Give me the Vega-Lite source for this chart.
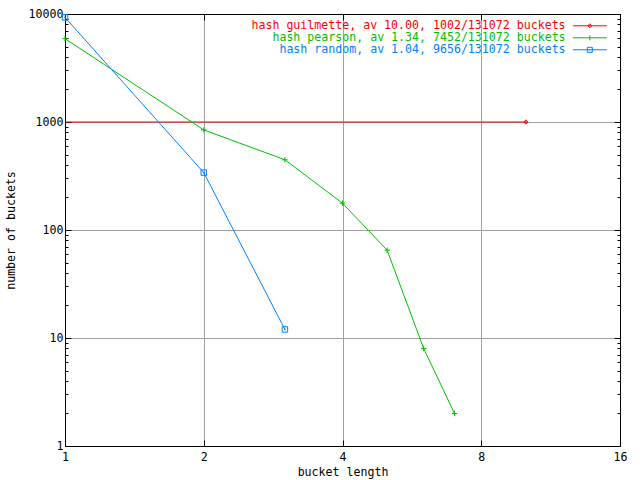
{
  "$schema": "https://vega.github.io/schema/vega-lite/v6.json",
  "width": 555,
  "height": 432,
  "autosize": {"type": "none"},
  "padding": {"left": 65, "top": 14, "right": 20, "bottom": 34},
  "background": "white",
  "config": {
    "view": {"stroke": "black", "strokeWidth": 1},
    "font": "DejaVu Sans Mono",
    "axis": {
      "labelFont": "DejaVu Sans Mono",
      "labelFontSize": 11.6,
      "labelColor": "black",
      "titleFont": "DejaVu Sans Mono",
      "titleFontSize": 11.6,
      "titleFontWeight": "normal",
      "titleColor": "black",
      "domainColor": "black",
      "tickColor": "black",
      "gridColor": "#a0a0a0",
      "gridWidth": 1
    }
  },
  "data": {
    "values": [
      {"series": "hash guilmette, av 10.00, 1002/131072 buckets", "len": 1, "count": 1000},
      {"series": "hash guilmette, av 10.00, 1002/131072 buckets", "len": 10, "count": 1000},
      {"series": "hash pearson, av 1.34, 7452/131072 buckets", "len": 1, "count": 5908},
      {"series": "hash pearson, av 1.34, 7452/131072 buckets", "len": 2, "count": 845},
      {"series": "hash pearson, av 1.34, 7452/131072 buckets", "len": 3, "count": 447},
      {"series": "hash pearson, av 1.34, 7452/131072 buckets", "len": 4, "count": 177},
      {"series": "hash pearson, av 1.34, 7452/131072 buckets", "len": 5, "count": 65},
      {"series": "hash pearson, av 1.34, 7452/131072 buckets", "len": 6, "count": 8},
      {"series": "hash pearson, av 1.34, 7452/131072 buckets", "len": 7, "count": 2},
      {"series": "hash random, av 1.04, 9656/131072 buckets", "len": 1, "count": 9304},
      {"series": "hash random, av 1.04, 9656/131072 buckets", "len": 2, "count": 340},
      {"series": "hash random, av 1.04, 9656/131072 buckets", "len": 3, "count": 12}
    ]
  },
  "layer": [
    {
      "mark": {"type": "line", "strokeWidth": 1, "clip": true},
      "encoding": {
        "x": {
          "field": "len", "type": "quantitative",
          "scale": {"type": "log", "base": 2, "domain": [1, 16], "nice": false},
          "axis": {
            "orient": "bottom", "values": [1, 2, 4, 8, 16], "format": "d",
            "title": "bucket length", "tickSize": -6, "labelPadding": 11,
            "titlePadding": 4, "grid": true, "labelFlush": false
          }
        },
        "y": {
          "field": "count", "type": "quantitative",
          "scale": {"type": "log", "domain": [1, 10000], "nice": false},
          "axis": {
            "orient": "left",
            "values": [1,2,3,4,5,6,7,8,9,10,20,30,40,50,60,70,80,90,100,200,300,400,500,600,700,800,900,1000,2000,3000,4000,5000,6000,7000,8000,9000,10000],
            "labelExpr": "indexof([1,10,100,1000,10000], datum.value) >= 0 ? format(datum.value, 'd') : ''",
            "tickSize": {"condition": {"test": "indexof([1,10,100,1000,10000], datum.value) >= 0", "value": -6}, "value": -3},
            "gridOpacity": {"condition": {"test": "indexof([1,10,100,1000,10000], datum.value) >= 0", "value": 1}, "value": 0},
            "grid": true, "labelPadding": 8, "labelFlush": false,
            "title": "number of buckets", "titlePadding": 12
          }
        },
        "color": {
          "field": "series", "type": "nominal",
          "scale": {"range": ["#ff0000", "#00c000", "#0080ff"]},
          "legend": {
            "title": null,
            "orient": "none",
            "legendX": 519,
            "legendY": 6,
            "padding": 0,
            "rowPadding": -2.3,
            "labelFont": "DejaVu Sans Mono",
            "labelFontSize": 11.6,
            "labelAlign": "right",
            "labelOffset": -30,
            "labelLimit": 400,
            "symbolSize": 11.56,
            "symbolStrokeWidth": 1,
            "encode": {
              "labels": {"update": {"fill": {"scale": "color", "field": "value"}}},
              "symbols": {"update": {
                "shape": {"signal": "indexof(datum.value, 'guilmette') >= 0 ? 'M-10,0L10,0M0,-1.18L1.18,0L0,1.18L-1.18,0ZM-0.1,-0.1L0.1,-0.1L0.1,0.1L-0.1,0.1Z' : indexof(datum.value, 'pearson') >= 0 ? 'M-10,0L10,0M0,-1.47L0,1.47' : 'M-10,0L10,0M-1.47,-1.47L1.47,-1.47L1.47,1.47L-1.47,1.47ZM-0.1,-0.1L0.1,-0.1L0.1,0.1L-0.1,0.1Z'"},
                "fill": {"value": "transparent"},
                "stroke": {"scale": "color", "field": "value"},
                "strokeWidth": {"value": 1},
                "opacity": {"value": 1}
              }}
            }
          }
        }
      }
    },
    {
      "transform": [{"filter": "!(indexof(datum.series, 'guilmette') >= 0 && datum.len == 1)"}],
      "mark": {"type": "point", "filled": false, "strokeWidth": 1, "size": 30, "opacity": 1},
      "encoding": {
        "x": {
          "field": "len", "type": "quantitative",
          "scale": {"type": "log", "base": 2, "domain": [1, 16], "nice": false},
          "axis": {"orient": "top", "values": [1, 2, 4, 8, 16], "labels": false, "title": null, "tickSize": -6, "grid": false}
        },
        "y": {
          "field": "count", "type": "quantitative",
          "scale": {"type": "log", "domain": [1, 10000], "nice": false},
          "axis": {
            "orient": "right",
            "values": [1,2,3,4,5,6,7,8,9,10,20,30,40,50,60,70,80,90,100,200,300,400,500,600,700,800,900,1000,2000,3000,4000,5000,6000,7000,8000,9000,10000],
            "labels": false, "title": null, "grid": false,
            "tickSize": {"condition": {"test": "indexof([1,10,100,1000,10000], datum.value) >= 0", "value": -6}, "value": -3}
          }
        },
        "color": {"field": "series", "type": "nominal"},
        "shape": {
          "field": "series", "type": "nominal",
          "scale": {"range": ["M0,-0.8L0.8,0L0,0.8L-0.8,0ZM-0.15,-0.15L0.15,-0.15L0.15,0.15L-0.15,0.15Z", "M-1,0L1,0M0,-1L0,1", "M-1,-1L1,-1L1,1L-1,1ZM-0.15,-0.15L0.15,-0.15L0.15,0.15L-0.15,0.15Z"]},
          "legend": null
        }
      }
    }
  ],
  "resolve": {"axis": {"x": "independent", "y": "independent"}}
}
